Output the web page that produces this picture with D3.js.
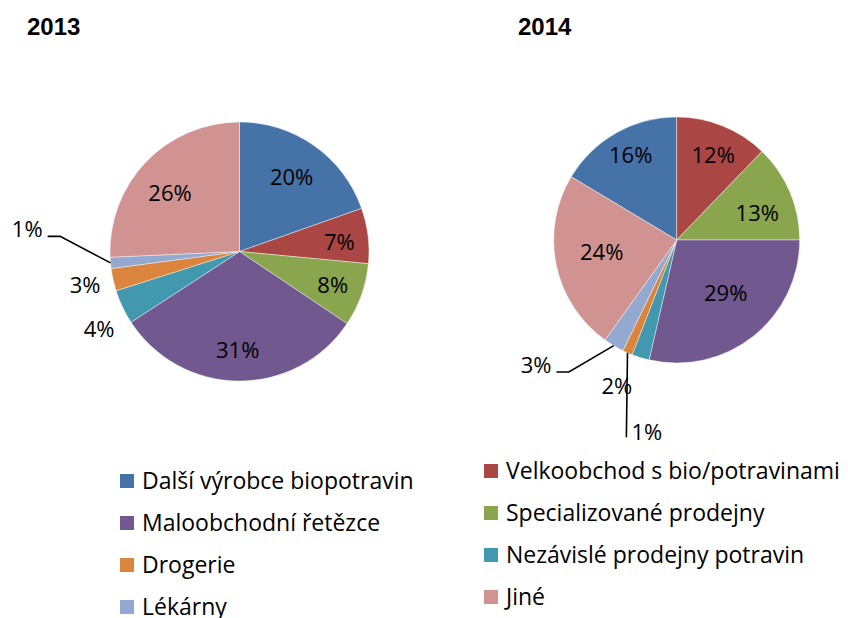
<!DOCTYPE html>
<html><head><meta charset="utf-8">
<script src="https://cdn.jsdelivr.net/npm/d3@7"></script>
<style>body{margin:0;background:#fff;overflow:hidden} svg{display:block}</style>
</head><body><svg id="c" width="848" height="618"></svg>
<script>
// ---------- data ----------
const categories = ["Další výrobce biopotravin","Velkoobchod s bio/potravinami","Specializované prodejny","Maloobchodní řetězce","Nezávislé prodejny potravin","Drogerie","Lékárny","Jiné"];
const years = ["2013","2014"];
const values2013 = [19.6, 6.9, 7.9, 31.4, 4.3, 2.8, 1.4, 25.7];
const values2014 = [16.4, 12.2, 12.8, 28.6, 2.3, 1.3, 2.7, 23.7];
const legendLeft = ["Další výrobce biopotravin","Maloobchodní řetězce","Drogerie","Lékárny"];
const legendRight = ["Velkoobchod s bio/potravinami","Specializované prodejny","Nezávislé prodejny potravin","Jiné"];

// ---------- styles ----------
const colors = ["#4572A7","#AA4643","#89A54E","#71588F","#4198AF","#DB843D","#93A9CF","#D19392"];
const TITLE_FONT = "'Liberation Sans', Arial, sans-serif";
const FONT = "'Open Sans', 'Liberation Sans', sans-serif";
// label placement per slice: da = angle offset (deg) from slice middle, k = radius factor, leader type
const labelStyle2013 = [
  {da:-0.4,k:0.704},{da:1.4,k:0.775},{da:0.2,k:0.765},{da:0.7,k:0.761},
  {da:-3.6,k:1.24},{da:0.4,k:1.22},{da:11.0,k:1.648,leader:"right"},{da:-3.8,k:0.70}];
const labelStyle2014 = [
  {da:1.1,k:0.786},{da:1.3,k:0.752},{da:4.7,k:0.69},{da:-4.4,k:0.585},
  {da:5.2,k:1.283},{da:-14.7,k:1.577,leader:"left"},{da:17.6,k:1.53,leader:"right"},{da:2.8,k:0.617}];

const charts = [
  {year: years[0], values: values2013, cx: 239.5, cy: 251.5, r: 129.5, rotate: false, labels: labelStyle2013, titleX: 27},
  {year: years[1], values: values2014, cx: 676.7, cy: 240, r: 123, rotate: true, labels: labelStyle2014, titleX: 518}
];

const svg = d3.select("#c");
const color = d3.scaleOrdinal().domain(categories).range(colors);
const rad = d => d * Math.PI / 180;

charts.forEach(ch => {
  svg.append("text").attr("x", ch.titleX).attr("y", 35)
    .attr("font-family", TITLE_FONT).attr("font-weight", "bold").attr("font-size", 24)
    .attr("fill", "#000").text(ch.year);

  const total = d3.sum(ch.values);
  const offset = ch.rotate ? -2 * Math.PI * ch.values[0] / total : 0;
  const pie = d3.pie().sort(null).value(d => d.v)
    .startAngle(offset).endAngle(offset + 2 * Math.PI);
  const data = pie(categories.map((c, i) => ({c, v: ch.values[i]})));
  const arc = d3.arc().innerRadius(0).outerRadius(ch.r);

  const g = svg.append("g").attr("transform", `translate(${ch.cx},${ch.cy})`);
  g.selectAll("path").data(data).join("path")
    .attr("d", arc).attr("fill", d => color(d.data.c))
    .attr("stroke", "#fff").attr("stroke-width", 0.7).attr("stroke-opacity", 0.6);

  const polar = (a, R) => [R * Math.sin(a), -R * Math.cos(a)];

  data.forEach((d, i) => {
    const st = ch.labels[i];
    const mid = (d.startAngle + d.endAngle) / 2;
    const [lx, ly] = polar(mid + rad(st.da), ch.r * st.k);
    const pct = Math.round(100 * d.data.v / total) + "%";
    const t = g.append("text").attr("x", lx).attr("y", ly).attr("dy", "0.36em")
      .attr("text-anchor", "middle").attr("font-family", FONT).attr("font-size", 22)
      .attr("fill", "#000").text(pct);
    if (st.leader) {
      const hw = t.node().getComputedTextLength() / 2;
      const [ax, ay] = polar(mid, ch.r);
      let pts;
      if (st.leader === "right") {
        const ex = lx + hw + 5, ey = ly + 7;
        pts = [[ex, ey], [ex + 12.5, ey], [ax, ay]];
      } else {
        pts = [[lx - hw - 5, ly + 5.5], [ax, ay]];
      }
      g.append("path").attr("d", d3.line()(pts)).attr("fill", "none")
        .attr("stroke", "#000").attr("stroke-width", 1.6);
    }
  });
});

// ---------- legend ----------
const legendCols = [
  {items: legendLeft, x: 120, y0: 481},
  {items: legendRight, x: 484, y0: 471}
];
legendCols.forEach(col => {
  const y = d3.scaleLinear().domain([0, 1]).range([col.y0, col.y0 + 42]);
  const lg = svg.append("g");
  col.items.forEach((c, i) => {
    lg.append("rect").attr("x", col.x).attr("y", y(i) - 7).attr("width", 14).attr("height", 14)
      .attr("fill", color(c));
    lg.append("text").attr("x", col.x + 22).attr("y", y(i) + 7.5)
      .attr("font-family", FONT).attr("font-size", 23).attr("fill", "#000").text(c);
  });
});
</script>
</body></html>
